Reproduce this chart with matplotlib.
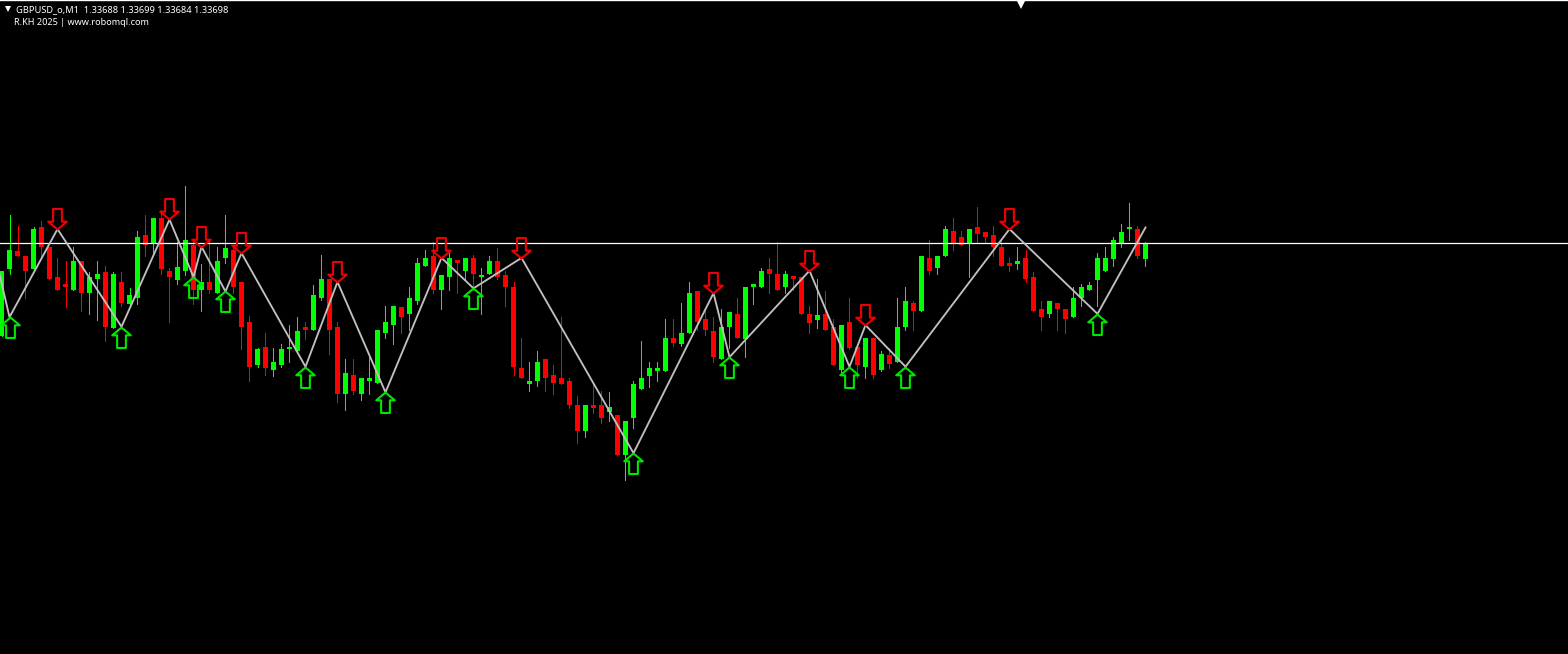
import matplotlib

matplotlib.use("Agg")

import matplotlib.pyplot as plt
from matplotlib.path import Path

# prices are 1.33xxx, lists hold the xxx part (1 = one point)
BASE_PRICE = 1.33
POINT = 0.00001
BID = 698

opens = [
    640, 682, 693, 690, 682, 708, 696, 677, 672, 669, 687, 667, 676, 680, 645, 674,
    660, 664, 703, 698, 714, 681, 675, 681, 697, 669, 674, 667, 689, 694, 674, 649,
    622, 633, 619, 622, 632, 631, 645, 644, 664, 676, 646, 604, 616, 604, 612, 611,
    642, 647, 658, 654, 662, 684, 690, 669, 677, 687, 681, 689, 677, 679, 687, 678,
    671, 620, 610, 612, 626, 616, 614, 612, 597, 581, 597, 597, 593, 591, 566, 589,
    607, 615, 618, 618, 639, 635, 642, 668, 651, 643, 626, 646, 654, 638, 671, 671,
    682, 679, 671, 677, 677, 654, 650, 654, 646, 619, 649, 633, 621, 639, 619, 628,
    624, 646, 661, 656, 689, 683, 690, 706, 702, 698, 708, 705, 703, 696, 686, 685,
    689, 677, 657, 654, 661, 657, 652, 664, 669, 675, 681, 688, 698, 707, 707, 688,
]
highs = [
    681, 716, 709, 690, 708, 712, 696, 689, 687, 696, 687, 680, 687, 684, 680, 680,
    670, 706, 716, 714, 719, 683, 699, 734, 701, 685, 701, 696, 716, 695, 674, 653,
    633, 642, 633, 635, 647, 652, 649, 672, 691, 676, 649, 626, 626, 614, 627, 644,
    659, 659, 658, 671, 689, 694, 699, 678, 692, 687, 689, 691, 683, 690, 695, 681,
    674, 639, 624, 631, 626, 622, 652, 614, 603, 597, 610, 606, 605, 591, 587, 612,
    637, 624, 624, 651, 651, 661, 674, 668, 657, 652, 657, 655, 664, 671, 672, 683,
    689, 699, 681, 677, 677, 659, 676, 668, 651, 647, 664, 633, 639, 639, 631, 633,
    664, 671, 662, 690, 700, 690, 709, 714, 706, 707, 721, 705, 709, 700, 689, 696,
    694, 680, 662, 662, 661, 657, 671, 673, 674, 692, 696, 702, 710, 723, 709, 699,
]
lows = [
    640, 679, 690, 664, 682, 689, 676, 669, 658, 669, 656, 654, 650, 637, 645, 659,
    660, 660, 690, 692, 679, 649, 673, 678, 660, 656, 667, 667, 686, 667, 632, 612,
    621, 616, 615, 621, 624, 631, 638, 644, 663, 629, 599, 594, 604, 600, 604, 611,
    639, 635, 642, 644, 660, 684, 667, 657, 669, 667, 676, 669, 654, 679, 676, 659,
    616, 614, 606, 609, 606, 604, 610, 595, 573, 577, 592, 586, 587, 566, 550, 583,
    607, 608, 612, 618, 634, 634, 642, 644, 641, 624, 626, 633, 639, 627, 660, 671,
    667, 669, 667, 669, 654, 642, 645, 644, 622, 616, 632, 614, 614, 614, 618, 620,
    624, 644, 644, 656, 679, 679, 690, 694, 697, 677, 698, 698, 690, 684, 681, 682,
    674, 656, 644, 652, 644, 642, 652, 659, 669, 659, 681, 684, 696, 700, 689, 684,
]
closes = [
    681, 694, 690, 681, 707, 696, 676, 669, 671, 687, 667, 677, 679, 646, 679, 661,
    666, 702, 697, 714, 682, 677, 683, 700, 669, 674, 669, 687, 695, 671, 646, 621,
    632, 620, 624, 632, 633, 643, 644, 666, 676, 644, 604, 617, 606, 614, 614, 644,
    649, 659, 652, 664, 686, 689, 669, 678, 689, 686, 689, 679, 678, 687, 677, 671,
    621, 614, 612, 624, 614, 611, 610, 597, 581, 597, 595, 589, 596, 566, 587, 610,
    614, 620, 620, 639, 636, 642, 667, 649, 644, 627, 646, 655, 639, 671, 672, 681,
    679, 669, 679, 676, 654, 648, 653, 644, 622, 647, 633, 622, 639, 616, 629, 623,
    646, 662, 656, 690, 681, 690, 707, 698, 697, 707, 704, 702, 696, 684, 684, 687,
    676, 656, 652, 662, 657, 651, 664, 671, 672, 689, 689, 700, 705, 708, 690, 698,
]

# zigzag turning points: bar number, price, the first one sits left of the window
zigzag_bars = [-1, 1, 7, 15, 21, 24, 25, 28, 30, 38, 42, 48, 55, 59, 65, 79, 89, 91,
               101, 106, 108, 113, 126, 137, 143]
zigzag_prices = [695, 652, 707, 646, 713, 677, 696, 668, 692, 621, 674, 605, 689, 670,
                 689, 567, 667, 627, 681, 621, 647, 621, 707, 654, 708]

sell_bars = [7, 21, 25, 30, 42, 55, 65, 89, 101, 108, 126]
buy_bars = [1, 15, 24, 28, 38, 48, 59, 79, 91, 106, 113, 137]

header_text = "GBPUSD_o,M1  1.33688 1.33699 1.33684 1.33698"
sub_text = "R.KH 2025 | www.robomql.com"
shift_bar = 127.5

WIDTH_PX = 1568
HEIGHT_PX = 654
BAR_STEP_PX = 8
POINT_PX = 1.6
BID_ROW = 243.5
GREEN = "#00ff00"
RED = "#ff0000"


def to_price(values):
    return [BASE_PRICE + v * POINT for v in values]


def arrow_path(direction):
    # tip at the origin, drawn pointing down for sell and up for buy
    shape = [(0, 0), (-9.5, 8), (-4.5, 8), (-4.5, 21), (4.5, 21), (4.5, 8), (9.5, 8), (0, 0)]
    verts = [(x, y * direction) for x, y in shape]
    codes = [Path.MOVETO] + [Path.LINETO] * 6 + [Path.CLOSEPOLY]
    return Path(verts, codes)


def draw_candles(ax):
    for i, (o, h, l, c) in enumerate(zip(opens, highs, lows, closes)):
        color = GREEN if c >= o else RED
        ax.vlines(i, BASE_PRICE + l * POINT, BASE_PRICE + h * POINT,
                  color=color, linewidth=0.72, antialiased=False, zorder=2)
        bottom = BASE_PRICE + min(o, c) * POINT
        height = max(abs(c - o) * POINT, 1.5 * POINT)
        ax.bar(i, height, bottom=bottom, width=5.6 / BAR_STEP_PX, color=color,
               linewidth=0, antialiased=False, zorder=3)


def main():
    fig = plt.figure(figsize=(WIDTH_PX / 100, HEIGHT_PX / 100), dpi=100, facecolor="black")
    ax = fig.add_axes([0, 0, 1, 1], facecolor="black")

    ax.set_xlim(-1.5 / BAR_STEP_PX, (WIDTH_PX - 1.5) / BAR_STEP_PX)
    bid_price = BASE_PRICE + BID * POINT
    ax.set_ylim(bid_price - (HEIGHT_PX - BID_ROW) / POINT_PX * POINT,
                bid_price + BID_ROW / POINT_PX * POINT)
    ax.set_axis_off()

    draw_candles(ax)

    ax.axhline(bid_price, color="white", linewidth=0.9, zorder=4)
    ax.plot(zigzag_bars, to_price(zigzag_prices), color="#c0c0c0", linewidth=1.35, zorder=5)

    sell_prices = [zigzag_prices[zigzag_bars.index(b)] for b in sell_bars]
    buy_prices = [zigzag_prices[zigzag_bars.index(b)] for b in buy_bars]
    ax.plot(sell_bars, to_price(sell_prices), linestyle="none", marker=arrow_path(1),
            markersize=29.5, markerfacecolor="none", markeredgecolor="#f00000",
            markeredgewidth=1.5, zorder=6)
    ax.plot(buy_bars, to_price(buy_prices), linestyle="none", marker=arrow_path(-1),
            markersize=29.5, markerfacecolor="none", markeredgecolor="#00e600",
            markeredgewidth=1.5, zorder=6)

    # top border and the chart shift triangle
    ax.plot([0, 1], [1, 1], color="white", linewidth=1.0, transform=ax.transAxes,
            clip_on=False, zorder=7)
    ax.plot([shift_bar], [0.9945], marker="v", markersize=7, color="white",
            markeredgewidth=0, transform=ax.get_xaxis_transform(), zorder=7)
    ax.plot([7.5 / WIDTH_PX], [1 - 9 / HEIGHT_PX], marker="v", markersize=4.5, color="white",
            markeredgewidth=0, transform=ax.transAxes, zorder=7)

    ax.text(16 / WIDTH_PX, 1 - 9.5 / HEIGHT_PX, header_text, color="white", fontsize=6.7,
            family="Noto Sans", va="center", ha="left", transform=ax.transAxes)
    ax.text(14 / WIDTH_PX, 1 - 22.5 / HEIGHT_PX, sub_text, color="white", fontsize=6.55,
            family="Noto Sans", va="center", ha="left", transform=ax.transAxes)

    fig.savefig("out.png", dpi=100, facecolor="black")
    plt.close(fig)


if __name__ == "__main__":
    main()
